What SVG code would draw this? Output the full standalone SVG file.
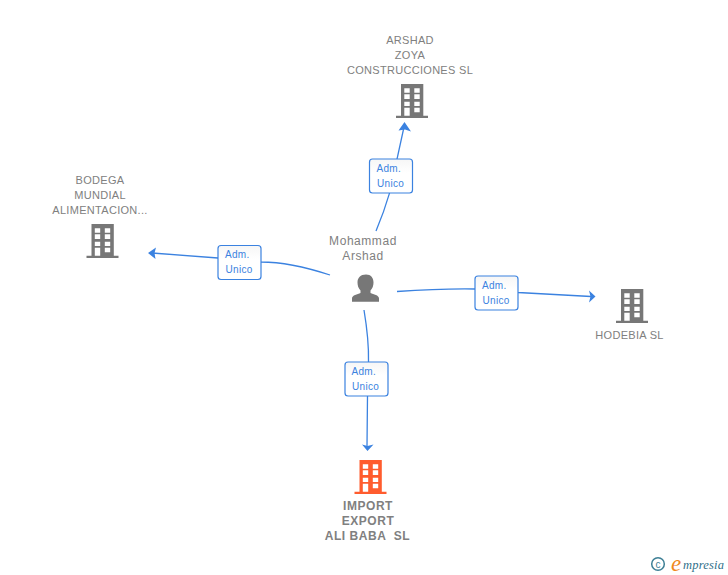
<svg xmlns="http://www.w3.org/2000/svg" width="728" height="575" viewBox="0 0 728 575">
<style>
text{font-family:"Liberation Sans",Arial,sans-serif}
.n{font-size:11px;fill:#808080;text-anchor:middle;letter-spacing:.3px}
.b{font-weight:bold;font-size:12px;letter-spacing:.55px}
.p{font-size:12px;letter-spacing:.55px}
.c{fill:none;stroke:#3b82e0;stroke-width:1.3}
.a{fill:#3b82e0}
.l{fill:url(#g);stroke:#3b82e0;stroke-width:1.2}
.t{font-size:10px;fill:#3b82e0;letter-spacing:.3px}
.w{fill:#fff}
</style>
<defs>
<linearGradient id="g" x1="0" y1="0" x2="0" y2="1"><stop offset="0" stop-color="#f6f6f6"/><stop offset=".4" stop-color="#fff"/></linearGradient>
<g id="win"><path class="w" d="M8.300 4.300h5.400v4.400H8.300zM18.300 4.300h5.400v4.400h-5.400zM8.300 10.300h5.400v4.700H8.300zM18.300 10.300h5.400v4.700h-5.400zM8.300 17.700h5.400V22H8.300zM18.300 17.700h5.400V22h-5.400zM8.300 23.700h5.400v8H8.300zM18.300 23.700h5.400v4.600h-5.400z"/></g>
<symbol id="bld" overflow="visible"><path d="M5 0h22.300v31.700H32V34H0v-2.300H5z"/><use href="#win"/></symbol>
</defs>
<g id="connectors">
<path class="c" d="M376 231Q392 193 397 159L404 127"/><path class="a" d="M404.500 122l6.500 9.500-6-2-6.500 1z"/>
<path class="c" d="M330 275Q290 262 261 262L218 258 152 253"/><path class="a" d="M148 253l8-5.500-1.500 5.500 1 6z"/>
<path class="c" d="M397 291.500Q440 288.500 475 289L518 292.500 591 296.500"/><path class="a" d="M595.500 296.500l-6.500 6 1.500-6-1.500-6z"/>
<path class="c" d="M364 310Q369 340 368.500 362L367.500 396 367 446"/><path class="a" d="M367.500 451l-5.500-6.500 5.500 1.500 6-1.500z"/>
</g>
<g id="label-top"><rect class="l" x="369.500" y="159" width="43" height="34" rx="3"/><text class="t" x="376.500" y="172">Adm.</text><text class="t" x="377" y="187">Unico</text></g>
<g id="label-left"><rect class="l" x="218" y="245.500" width="43" height="34" rx="3"/><text class="t" x="225" y="258">Adm.</text><text class="t" x="225.500" y="273">Unico</text></g>
<g id="label-right"><rect class="l" x="475" y="276" width="43" height="34" rx="3"/><text class="t" x="482" y="289">Adm.</text><text class="t" x="482.500" y="304">Unico</text></g>
<g id="label-bottom"><rect class="l" x="345" y="362" width="43" height="34" rx="3"/><text class="t" x="351.500" y="375">Adm.</text><text class="t" x="352" y="390">Unico</text></g>
<g id="node-arshad" fill="#777"><text class="n" x="410" y="44">ARSHAD</text><text class="n" x="410" y="59">ZOYA</text><text class="n" x="410" y="74">CONSTRUCCIONES SL</text><use href="#bld" x="396" y="84"/></g>
<g id="node-bodega" fill="#777"><text class="n" x="100" y="184">BODEGA</text><text class="n" x="100" y="199">MUNDIAL</text><text class="n" x="100" y="214">ALIMENTACION...</text><use href="#bld" x="86.500" y="224"/></g>
<g id="node-hodebia" fill="#777"><use href="#bld" x="616" y="289"/><text class="n" x="629.500" y="339">HODEBIA SL</text></g>
<g id="node-import" fill="#ff5c2e"><use href="#bld" x="354.500" y="460"/><text class="n b" x="368" y="509.500">IMPORT</text><text class="n b" x="368" y="524.500">EXPORT</text><text class="n b" x="367.500" y="540">ALI BABA &#160;SL</text></g>
<g id="node-person"><text class="n p" x="363" y="245">Mohammad</text><text class="n p" x="363" y="260">Arshad</text><path fill="#777" d="M366 274.500c5 0 7.500 3.500 7.500 8 0 3-1 6-3 8v2.500c3 1.500 8.500 2 8.500 5.500v3.200h-27V298.500c0-3.500 5.500-4 8.500-5.500v-2.500c-2-2-3-5-3-8 0-4.500 3-8 8.500-8z"/></g>
<g id="logo"><circle cx="658" cy="564" r="6.300" fill="none" stroke="#3d7f95" stroke-width="1.500"/><text x="658" y="567.500" font-size="10" fill="#3d7f95" text-anchor="middle">c</text><text x="671" y="571" font-size="23" fill="#f08a1d" font-style="italic" style="font-family:'Liberation Serif',serif">e</text><text x="683" y="569" font-size="12.500" fill="#2f6f8a" font-style="italic" style="font-family:'Liberation Serif',serif" letter-spacing=".2">mpresia</text></g>
</svg>
